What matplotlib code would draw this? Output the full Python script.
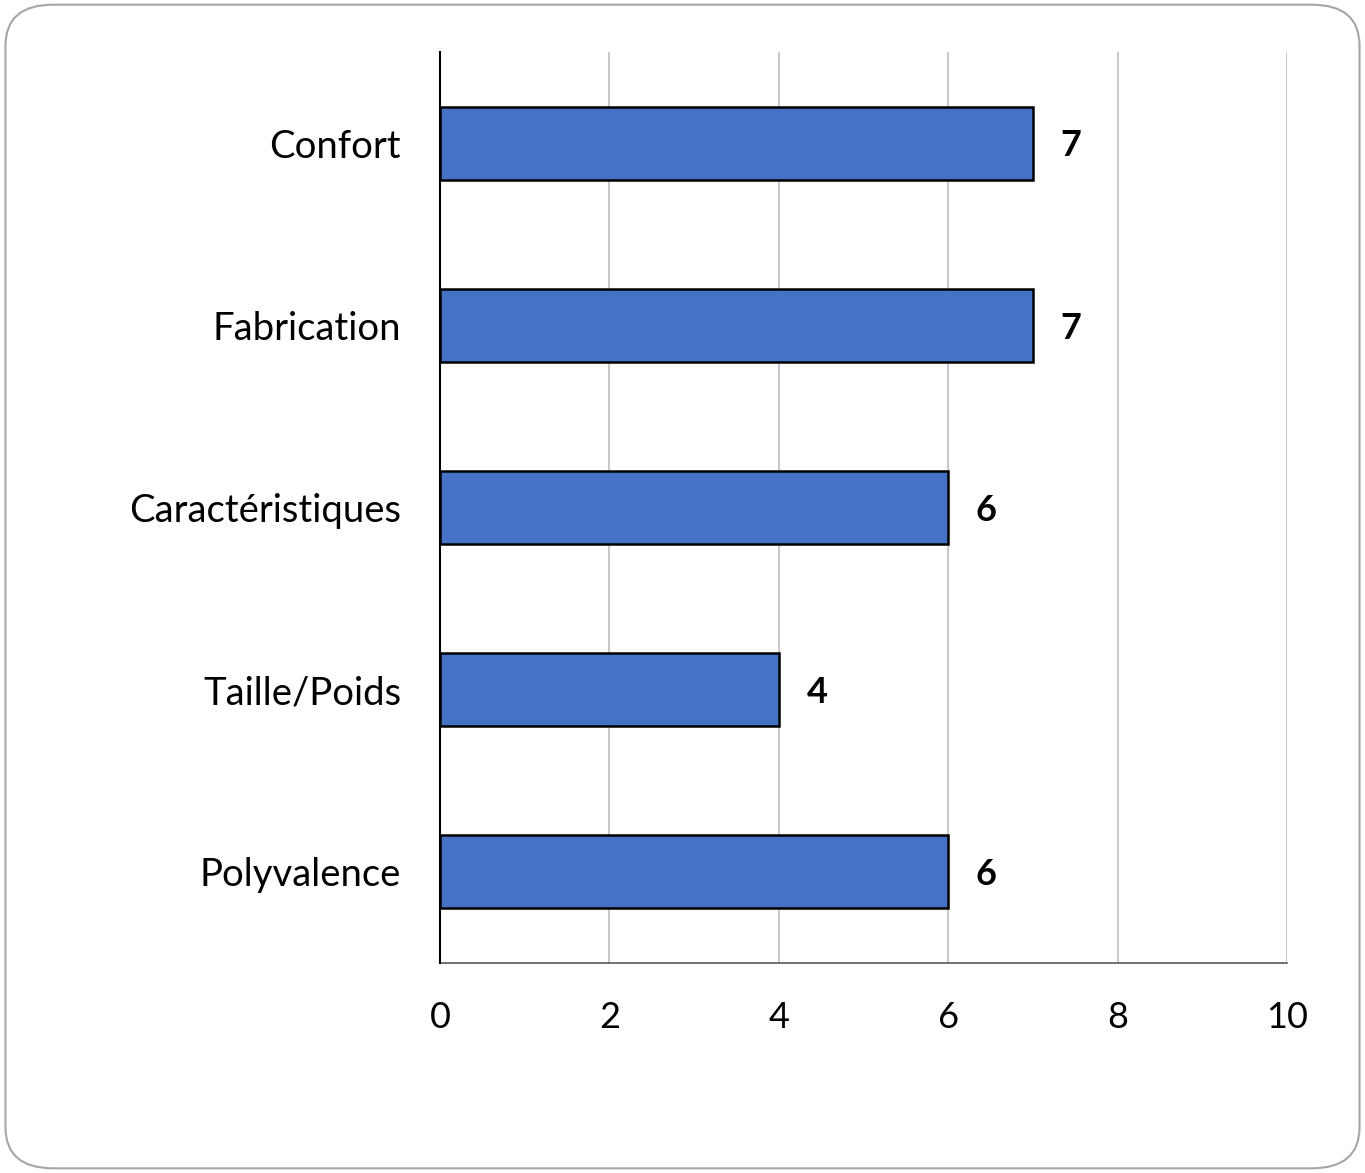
import matplotlib.pyplot as plt
from matplotlib.patches import FancyBboxPatch

# données
categories = ['Confort', 'Fabrication', 'Caractéristiques', 'Taille/Poids', 'Polyvalence']
valeurs = [7, 7, 6, 4, 6]
ticks_x = [0, 2, 4, 6, 8, 10]

plt.rcParams['font.family'] = ['Lato', 'DejaVu Sans']

fig = plt.figure(figsize=(13.65, 11.73), dpi=100)

# cadre arrondi autour du graphique
cadre = FancyBboxPatch((0.004, 0.004), 0.992, 0.992,
                       boxstyle='round,pad=0,rounding_size=0.035',
                       transform=fig.transFigure, fill=False,
                       edgecolor='#a6a6a6', linewidth=1.5)
fig.patches.append(cadre)

ax = fig.add_axes([0.3223, 0.179, 0.6205, 0.7767])

pos = range(len(categories))
ax.barh(pos, valeurs, height=0.4, color='#4472c4', edgecolor='black', linewidth=1.8, zorder=3)

# étiquettes de valeur
for i, v in zip(pos, valeurs):
    ax.annotate(str(v), (v, i), xytext=(20, -2), textcoords='offset points',
                ha='left', va='center', fontsize=26, fontweight='bold')

ax.set_xlim(0, 10)
ax.set_ylim(len(categories) - 0.5, -0.5)
ax.set_xticks(ticks_x)
ax.set_yticks(list(pos))
ax.set_yticklabels(categories)
ax.tick_params(axis='both', length=0, labelsize=26)
ax.tick_params(axis='y', pad=28, labelsize=27.5)
ax.tick_params(axis='x', pad=27)

ax.grid(axis='x', color='#bfbfbf', linewidth=1.2, zorder=0)
ax.spines['top'].set_visible(False)
ax.spines['right'].set_visible(False)
ax.spines['left'].set_color('black')
ax.spines['left'].set_linewidth(1.5)
ax.spines['left'].set_zorder(4)
ax.spines['bottom'].set_color('#595959')
ax.spines['bottom'].set_linewidth(1.2)

fig.savefig('out.png', dpi=100)
